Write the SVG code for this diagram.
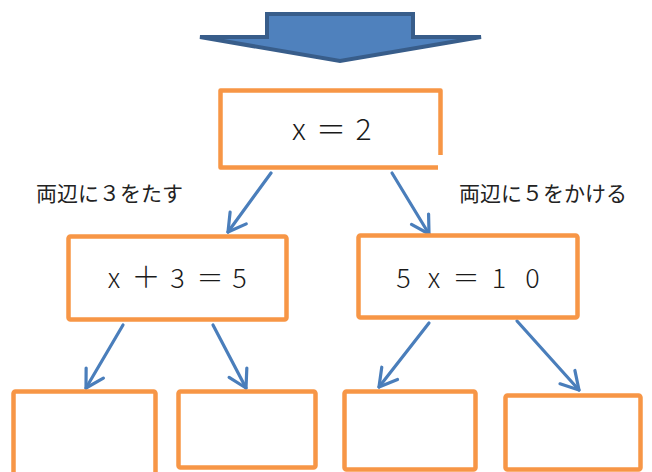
<svg xmlns="http://www.w3.org/2000/svg" width="652" height="472" viewBox="0 0 652 472">
<style>
.box{fill:none;stroke:#F79646;stroke-width:4.5;stroke-linejoin:round}
.conn{fill:none;stroke:#4A7EBB;stroke-width:3.2;stroke-linecap:round}
.eq{font-family:"Noto Sans CJK JP","Noto Sans",sans-serif;font-weight:300;fill:#1a1a1a;text-anchor:middle}
.lbl{font-family:"Noto Sans CJK JP","Noto Sans",sans-serif;font-size:21px;fill:#222}
</style>
<defs>
<marker id="ah" markerUnits="userSpaceOnUse" viewBox="-20 -12 22 24" refX="0" refY="0" markerWidth="22" markerHeight="24" orient="auto" overflow="visible">
<path d="M-17.3,-10 L0,0 L-17.3,10" fill="none" stroke="#4A7EBB" stroke-width="3.2" stroke-linecap="round" stroke-linejoin="round"/>
</marker>
</defs>
<g id="big-arrow">
<polygon points="267,14 413,14 413,37 481,37 340,61 200,37 267,37" fill="#4F81BD" stroke="#385D8A" stroke-width="4" stroke-linejoin="miter"/>
</g>
<g id="connectors">
<line class="conn" x1="271" y1="173" x2="228" y2="232" marker-end="url(#ah)"/>
<line class="conn" x1="392" y1="173" x2="429" y2="234" marker-end="url(#ah)"/>
<line class="conn" x1="123" y1="325" x2="86" y2="388" marker-end="url(#ah)"/>
<line class="conn" x1="213" y1="325" x2="246" y2="388" marker-end="url(#ah)"/>
<line class="conn" x1="429" y1="323" x2="379" y2="387" marker-end="url(#ah)"/>
<line class="conn" x1="517" y1="321" x2="579" y2="390" marker-end="url(#ah)"/>
</g>
<g id="node-top">
<path class="box" d="M438,167.5 L220.5,167.5 L220.5,90.5 L440.5,90.5 L440.5,155"/>
<text class="eq" font-size="30" y="140"><tspan x="299">x</tspan><tspan x="331">＝</tspan><tspan x="363.5">2</tspan></text>
</g>
<g id="label-left">
<text class="lbl" x="36" y="201" font-size="21.5">両辺に３をたす</text>
</g>
<g id="label-right">
<text class="lbl" x="459" y="201" font-size="21.5">両辺に５をかける</text>
</g>
<g id="node-left">
<rect class="box" x="68.5" y="236.5" width="218" height="83" rx="2"/>
<text class="eq" font-size="27" y="288"><tspan x="114">x</tspan><tspan x="146" font-size="29">＋</tspan><tspan x="177.5">3</tspan><tspan x="210">＝</tspan><tspan x="239.5">5</tspan></text>
</g>
<g id="node-right">
<rect class="box" x="358.5" y="235.5" width="219" height="82" rx="2"/>
<text class="eq" font-size="27" y="288"><tspan x="403.5">5</tspan><tspan x="434">x</tspan><tspan x="466">＝</tspan><tspan x="499">1</tspan><tspan x="532.5">0</tspan></text>
</g>
<g id="node-ll">
<rect class="box" x="13.5" y="391.5" width="142" height="100" rx="2"/>
</g>
<g id="node-lr">
<rect class="box" x="178.5" y="391.5" width="137" height="76" rx="2"/>
</g>
<g id="node-rl">
<rect class="box" x="344.5" y="391.5" width="131" height="78" rx="2"/>
</g>
<g id="node-rr">
<rect class="box" x="505.5" y="395.5" width="135" height="74" rx="2"/>
</g>
</svg>
